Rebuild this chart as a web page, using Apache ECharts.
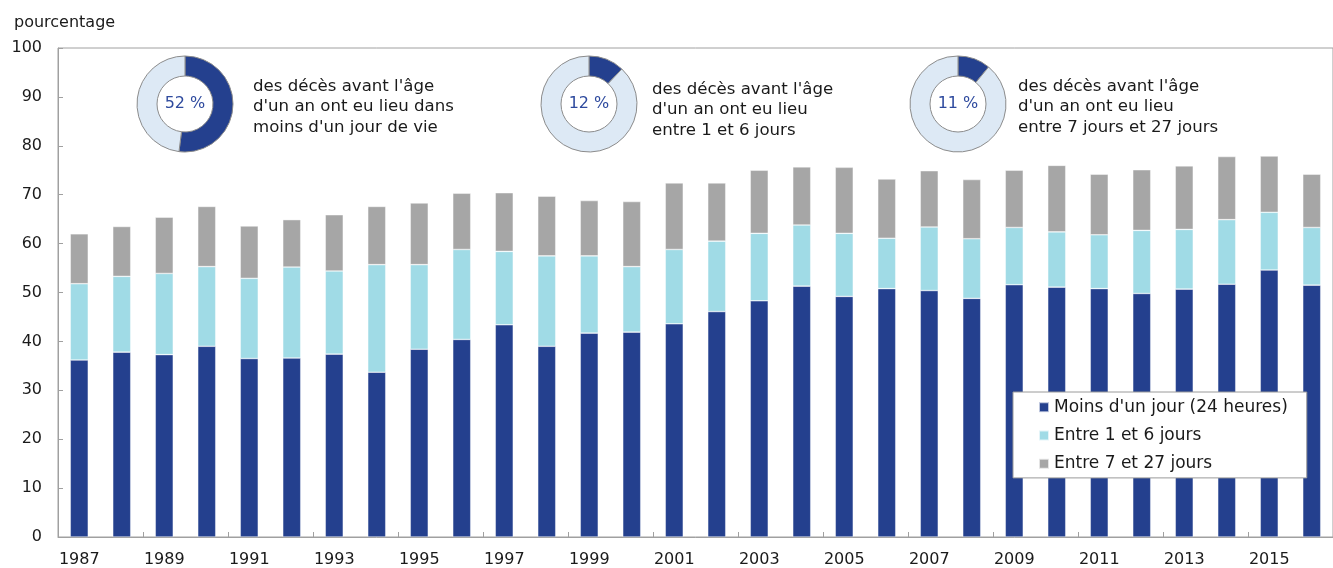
<!DOCTYPE html>
<html>
<head>
<meta charset="utf-8">
<script src="https://cdn.jsdelivr.net/npm/echarts@6/dist/echarts.min.js"></script>
<style>
  html, body { margin: 0; padding: 0; background: #fff; }
  #chart { width: 1333px; height: 568px; }
</style>
</head>
<body>
<div id="chart"></div>
<script>
// années
var years = ['1987', '1988', '1989', '1990', '1991', '1992', '1993', '1994', '1995', '1996',
  '1997', '1998', '1999', '2000', '2001', '2002', '2003', '2004', '2005', '2006',
  '2007', '2008', '2009', '2010', '2011', '2012', '2013', '2014', '2015', '2016'];

// Moins d'un jour (24 heures)
var moinsUnJour = [36.2, 37.8, 37.3, 39.0, 36.5, 36.6, 37.4, 33.7, 38.4, 40.4,
  43.4, 39.0, 41.7, 41.9, 43.6, 46.1, 48.3, 51.3, 49.2, 50.8,
  50.4, 48.8, 51.6, 51.1, 50.8, 49.8, 50.7, 51.7, 54.6, 51.5];

// Entre 1 et 6 jours
var entre1et6 = [15.6, 15.5, 16.6, 16.3, 16.4, 18.6, 17.0, 22.0, 17.3, 18.4,
  15.0, 18.5, 15.8, 13.4, 15.2, 14.4, 13.8, 12.5, 12.9, 10.3,
  13.0, 12.2, 11.7, 11.3, 11.0, 12.9, 12.2, 13.2, 11.8, 11.8];

// Entre 7 et 27 jours
var entre7et27 = [10.2, 10.2, 11.5, 12.3, 10.7, 9.7, 11.5, 11.9, 12.6, 11.5,
  12.0, 12.2, 11.3, 13.3, 13.6, 11.9, 12.9, 11.9, 13.5, 12.1,
  11.5, 12.1, 11.7, 13.6, 12.4, 12.4, 13.0, 12.9, 11.5, 10.9];

var seriesNames = ["Moins d'un jour (24 heures)", 'Entre 1 et 6 jours', 'Entre 7 et 27 jours'];

// parts des décès (anneaux)
var partsDeces = [52, 12, 11];
var partsTextes = [
  "des décès avant l'âge\nd'un an ont eu lieu dans\nmoins d'un jour de vie",
  "des décès avant l'âge\nd'un an ont eu lieu\nentre 1 et 6 jours",
  "des décès avant l'âge\nd'un an ont eu lieu\nentre 7 jours et 27 jours"
];

var FONT = '"DejaVu Sans", Verdana, sans-serif';
var colors = ['#24408e', '#a0dbe6', '#a6a6a6'];
var ringLight = '#dde9f5';

var chart = echarts.init(document.getElementById('chart'));

var donutCenters = [[185, 104], [589, 104], [958, 104]];
var textPos = [[253, 76], [652, 79], [1018, 76]];

function barSeries(name, data, color) {
  return {
    name: name,
    type: 'bar',
    stack: 'total',
    data: data,
    barWidth: 18,
    itemStyle: { color: color, borderColor: 'rgba(255,255,255,0.7)', borderWidth: 0.6 },
    emphasis: { disabled: true },
    animation: false
  };
}

var series = [
  barSeries(seriesNames[0], moinsUnJour, colors[0]),
  barSeries(seriesNames[1], entre1et6, colors[1]),
  barSeries(seriesNames[2], entre7et27, colors[2])
];

partsDeces.forEach(function (p, i) {
  series.push({
    type: 'pie',
    center: donutCenters[i],
    radius: [28, 48],
    startAngle: 90,
    clockwise: true,
    silent: true,
    animation: false,
    label: { show: false },
    labelLine: { show: false },
    itemStyle: { borderColor: '#8c8c8c', borderWidth: 1 },
    data: [
      {
        value: p, itemStyle: { color: colors[0] },
        label: { show: true, position: 'center', formatter: p + ' %', color: '#2e4a9e', fontSize: 16, fontFamily: FONT }
      },
      { value: 100 - p, itemStyle: { color: ringLight } }
    ]
  });
});

var graphics = partsTextes.map(function (t, i) {
  return {
    type: 'text',
    left: textPos[i][0],
    top: textPos[i][1],
    style: { text: t, fill: '#1a1a1a', font: '16.6px ' + FONT, lineHeight: 20.5 }
  };
});

chart.setOption({
  backgroundColor: '#ffffff',
  textStyle: { fontFamily: FONT },
  grid: {
    left: 58, top: 48, width: 1284, height: 490,
    show: true, borderColor: '#a0a0a0', borderWidth: 1, backgroundColor: 'transparent'
  },
  title: {
    text: 'pourcentage', left: 9, top: 10,
    textStyle: { fontSize: 16, fontWeight: 'normal', color: '#1a1a1a', fontFamily: FONT }
  },
  legend: {
    data: seriesNames,
    orient: 'vertical',
    left: 1013, top: 392,
    itemWidth: 10, itemHeight: 10, itemGap: 10,
    icon: 'rect',
    padding: [6, 19, 5, 25],
    borderColor: '#9a9a9a', borderWidth: 1,
    backgroundColor: '#ffffff',
    selectedMode: false,
    textStyle: { fontSize: 17, color: '#1a1a1a', fontFamily: FONT, lineHeight: 18.3 }
  },
  xAxis: {
    type: 'category',
    data: years,
    axisLine: { lineStyle: { color: '#a0a0a0', width: 1 } },
    axisTick: { show: true, inside: true, length: 5, interval: 1, lineStyle: { color: '#a0a0a0' } },
    axisLabel: { interval: 1, fontSize: 16, color: '#1a1a1a', margin: 15, fontFamily: FONT }
  },
  yAxis: {
    type: 'value',
    min: 0, max: 100, interval: 10,
    axisLine: { show: true, lineStyle: { color: '#a0a0a0', width: 1 } },
    axisTick: { show: true, inside: true, length: 5, lineStyle: { color: '#a0a0a0' } },
    axisLabel: { fontSize: 16, color: '#1a1a1a', margin: 16, fontFamily: FONT },
    splitLine: { show: false }
  },
  graphic: graphics,
  series: series
});
</script>
</body>
</html>
